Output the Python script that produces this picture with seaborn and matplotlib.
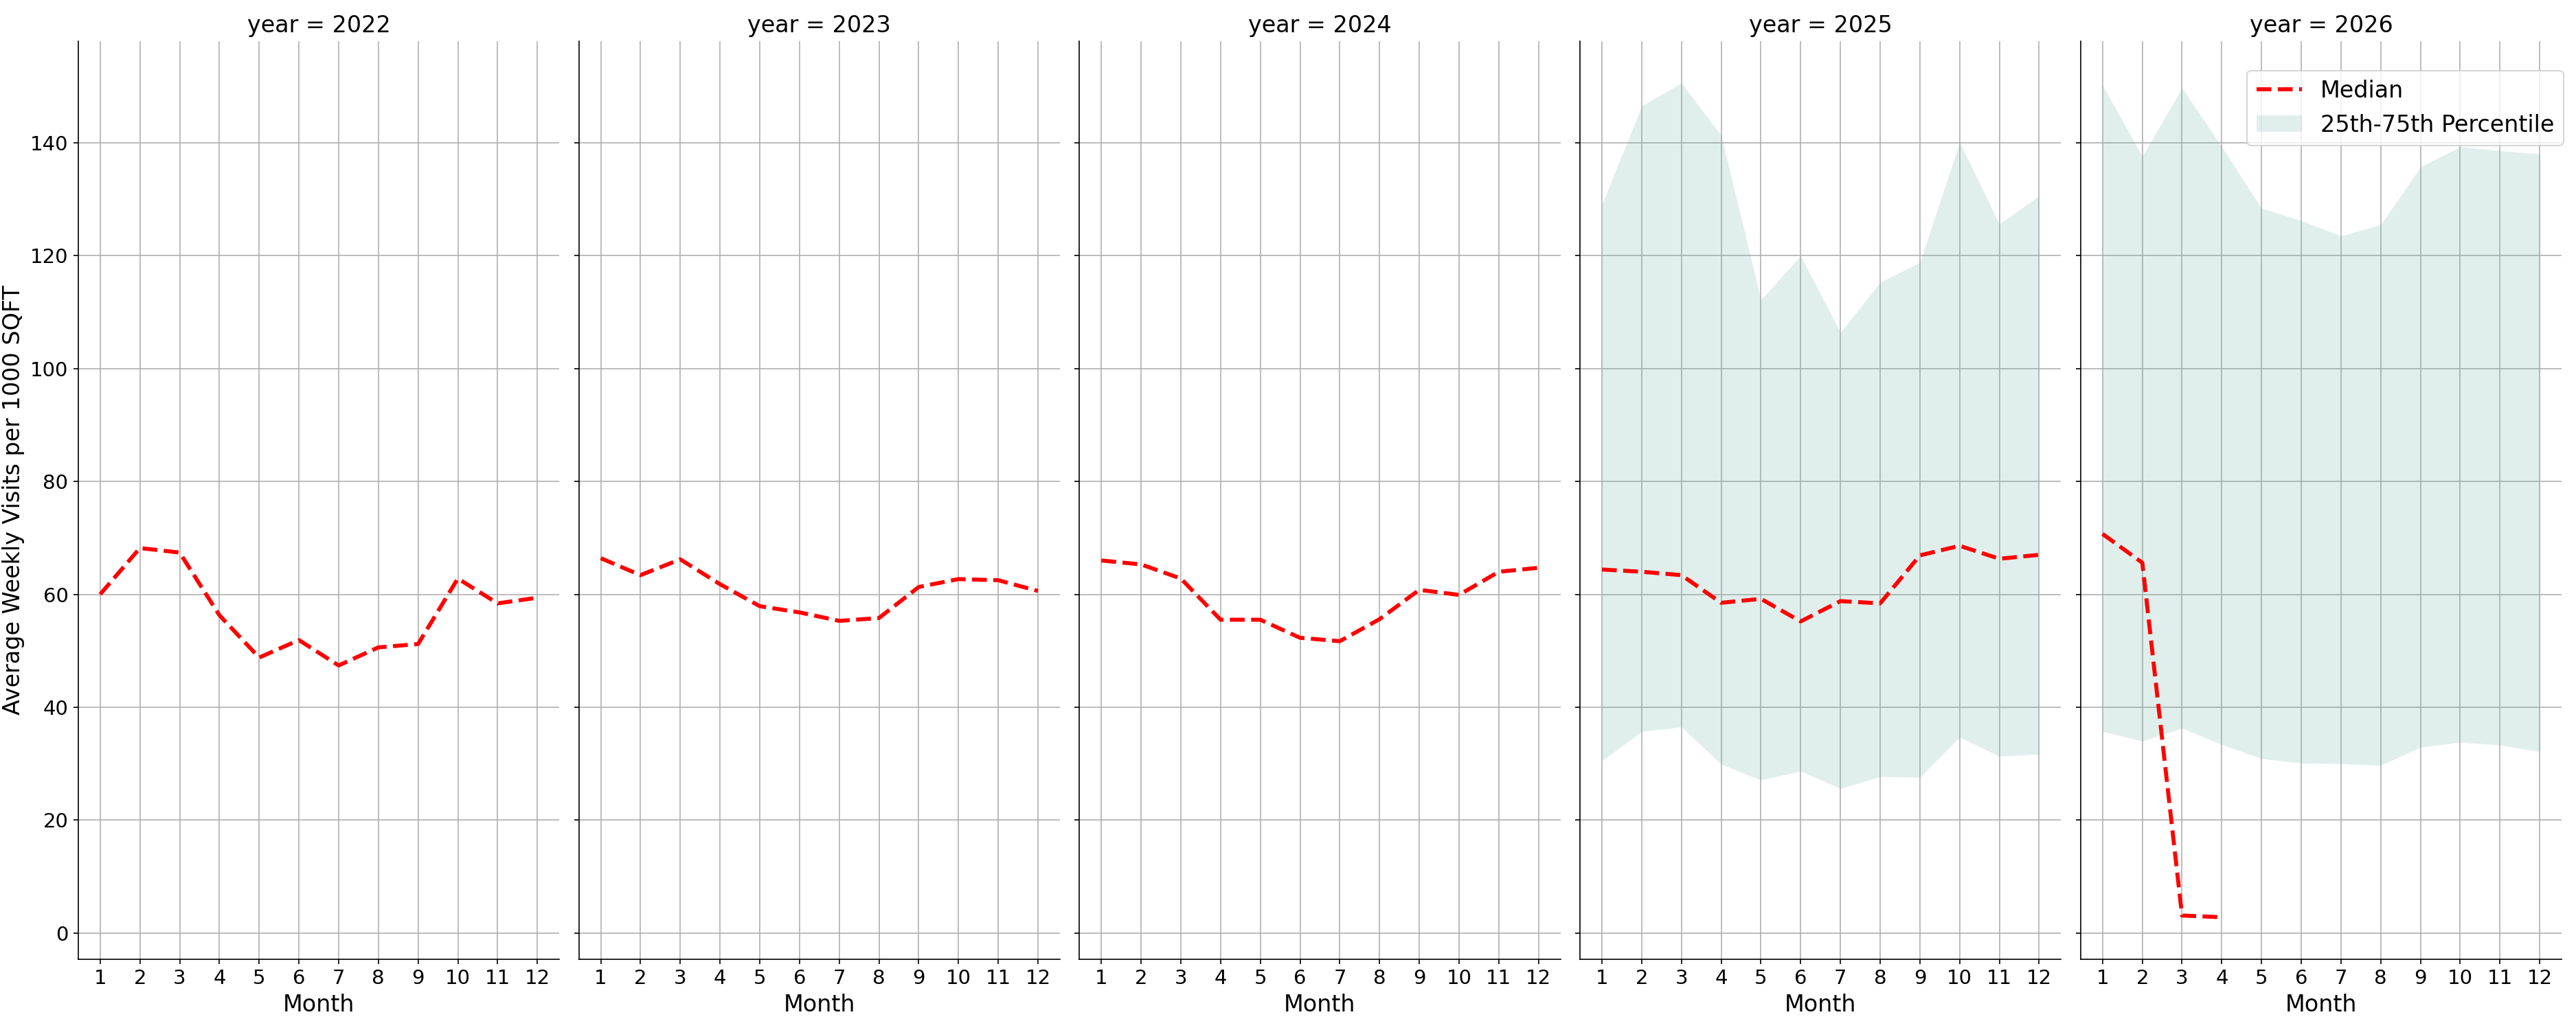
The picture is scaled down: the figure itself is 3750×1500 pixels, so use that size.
import matplotlib
matplotlib.use("Agg")
import matplotlib.pyplot as plt
import pandas as pd
import seaborn as sns

# ---- data ----
years = [2022, 2023, 2024, 2025, 2026]
months = [1, 2, 3, 4, 5, 6, 7, 8, 9, 10, 11, 12]

median_2022 = [60.0, 68.2, 67.4, 56.3, 48.8, 51.9, 47.4, 50.6, 51.2, 62.8, 58.4, 59.4]
median_2023 = [66.4, 63.4, 66.2, 61.8, 57.9, 56.8, 55.3, 55.8, 61.3, 62.7, 62.5, 60.6]
median_2024 = [66.0, 65.3, 62.8, 55.5, 55.5, 52.3, 51.7, 55.6, 60.8, 59.9, 64.0, 64.7]
median_2025 = [64.4, 64.0, 63.4, 58.5, 59.2, 55.2, 58.8, 58.4, 66.9, 68.6, 66.3, 67.0]
median_2026 = [70.7, 65.6, 3.1, 2.8]

p25_2025 = [30.5, 35.7, 36.5, 29.9, 27.1, 28.7, 25.6, 27.7, 27.6, 34.7, 31.3, 31.7]
p75_2025 = [129.1, 146.5, 150.6, 141.3, 112.2, 120.0, 106.4, 115.3, 118.8, 140.1, 125.6, 130.6]
p25_2026 = [35.7, 34.0, 36.3, 33.4, 30.9, 30.1, 30.0, 29.7, 32.9, 33.8, 33.3, 32.1]
p75_2026 = [150.2, 137.6, 149.7, 139.3, 128.4, 126.2, 123.5, 125.5, 135.7, 139.3, 138.6, 138.0]

medians = {2022: median_2022, 2023: median_2023, 2024: median_2024,
           2025: median_2025, 2026: median_2026}
bands = {2025: (p25_2025, p75_2025), 2026: (p25_2026, p75_2026)}

rows = []
for yr in years:
    for m, v in zip(months, medians[yr]):
        rows.append({"year": yr, "Month": m, "median": v})
df = pd.DataFrame(rows)

band_rows = []
for yr, (lo, hi) in bands.items():
    for m, a, b in zip(months, lo, hi):
        band_rows.append({"year": yr, "Month": m, "p25": a, "p75": b})
band_df = pd.DataFrame(band_rows)

plt.rcParams.update({
    "xtick.labelsize": 14,
    "ytick.labelsize": 14,
    "axes.labelsize": 16,
    "axes.titlesize": 16,
    "legend.fontsize": 16,
})

g = sns.FacetGrid(df, col="year", col_order=years, height=10, aspect=0.5, sharey=True)

for yr in years:
    ax = g.axes_dict[yr]
    ax.grid(True)
    ax.set_axisbelow(True)
    sub = df[df["year"] == yr]
    sns.lineplot(data=sub, x="Month", y="median", ax=ax, color="red",
                 linestyle="--", linewidth=2.8, label="Median", legend=False)
    if yr in bands:
        bsub = band_df[band_df["year"] == yr]
        ax.fill_between(bsub["Month"], bsub["p25"], bsub["p75"], color="#69b3a2",
                        alpha=0.2, linewidth=0, label="25th-75th Percentile")
    ax.set_xticks(months)
    if ax.get_legend() is not None:
        ax.get_legend().remove()

g.set_titles("year = {col_name}")
g.set_axis_labels("Month", "Average Weekly Visits per 1000 SQFT")

last = g.axes_dict[years[-1]]
handles, labels = last.get_legend_handles_labels()
order = [labels.index("Median"), labels.index("25th-75th Percentile")]
last.legend([handles[i] for i in order], [labels[i] for i in order],
            loc="upper right", bbox_to_anchor=(1.004, 0.968), borderaxespad=0)

g.fig.subplots_adjust(left=0.0304, right=0.9944, top=0.96, bottom=0.069, wspace=0.041)
g.fig.savefig("out.png", dpi=150)
